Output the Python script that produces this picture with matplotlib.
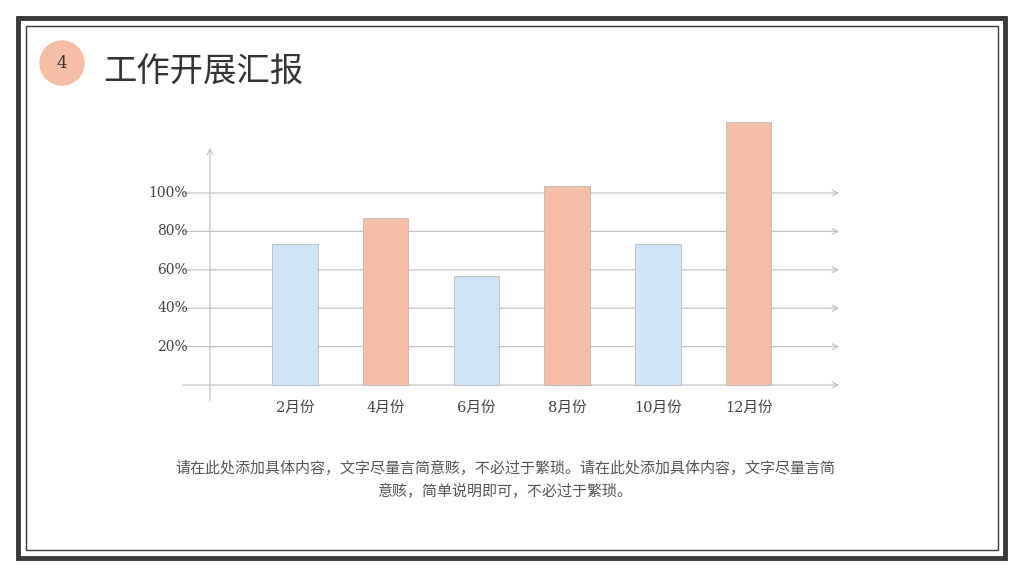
import matplotlib.pyplot as plt
from matplotlib.patches import Rectangle, Circle

plt.rcParams['font.family'] = ['DejaVu Serif', 'Noto Sans CJK SC']

months = ['2月份', '4月份', '6月份', '8月份', '10月份', '12月份']
values = [73.4, 87, 56.8, 103.6, 73.4, 137]
bar_colors = ['#CFE4F6', '#F7BEA6', '#CFE4F6', '#F7BEA6', '#CFE4F6', '#F7BEA6']
grid_levels = [0, 20, 40, 60, 80, 100]
grid_labels = ['', '20%', '40%', '60%', '80%', '100%']
title = '工作开展汇报'
body = ['请在此处添加具体内容，文字尽量言简意赅，不必过于繁琐。请在此处添加具体内容，文字尽量言简',
        '意赅，简单说明即可，不必过于繁琐。']

fig = plt.figure(figsize=(10.24, 5.76), dpi=100)
fig.patch.set_facecolor('white')

# frames
fig.add_artist(Rectangle((18/1024, 18/576), 987/1024, 540/576, transform=fig.transFigure,
                         fill=False, edgecolor='#3a3a3a', linewidth=3.5))
fig.add_artist(Rectangle((26/1024, 26/576), 972/1024, 524/576, transform=fig.transFigure,
                         fill=False, edgecolor='#3a3a3a', linewidth=1))

# header
bg = fig.add_axes([0, 0, 1, 1])
bg.set_xlim(0, 1024)
bg.set_ylim(576, 0)
bg.axis('off')
bg.add_patch(Circle((62, 63), 22, color='#F7BEA6'))
bg.text(62, 64, '4', ha='center', va='center', fontsize=12, color='#333333')
bg.text(103, 71, title, ha='left', va='center', fontsize=24, color='#333333',
        family=['Noto Sans CJK SC'], fontweight='light')
for i, line in enumerate(body):
    bg.text(505, 468 + 23 * i, line, ha='center', va='center', fontsize=10.8, color='#555555',
            family=['Noto Sans CJK SC'])

# chart
ax = fig.add_axes([180/1024, (576-405)/576, 662/1024, 290/576])
xl, xr = -1.268, 6.03
ax.set_xlim(xl, xr)
ax.set_ylim(-10.4, 140.6)
ax.axis('off')
x = list(range(len(months)))
ax.bar(x, values, width=0.5, color=bar_colors, edgecolor='#b8b8b8', linewidth=0.6, zorder=3)
for lvl, lab in zip(grid_levels, grid_labels):
    ax.annotate('', xy=(xr, lvl), xytext=(xl, lvl),
                arrowprops=dict(arrowstyle='->', color='#c4c4c4', lw=0.9), zorder=1)
    if lab:
        ax.text(-1.18, lvl, lab, ha='right', va='center', fontsize=10, color='#444444')
ax.annotate('', xy=(-0.937, 125), xytext=(-0.937, -9.4),
            arrowprops=dict(arrowstyle='->', color='#c4c4c4', lw=0.9))
for xi, m in zip(x, months):
    ax.text(xi, -12, m, ha='center', va='center', fontsize=10.5, color='#444444')

fig.savefig('out.png', dpi=100)
